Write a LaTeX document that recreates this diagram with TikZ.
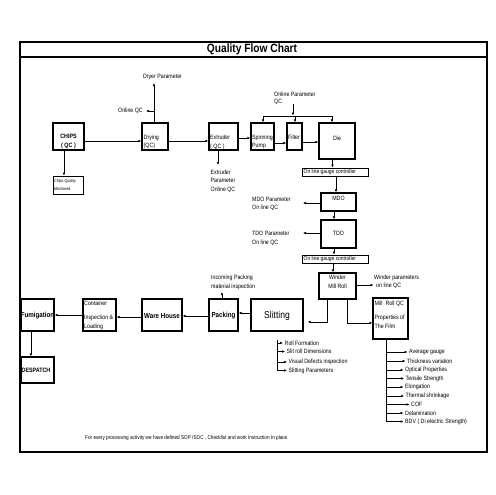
\documentclass[tikz,border=0pt]{standalone}
\usepackage{fontspec}
\setmainfont[FakeStretch=0.85]{Liberation Sans}
\usetikzlibrary{arrows.meta}
\newcommand\fsz[2]{\fontsize{#1}{#2}\selectfont}
\begin{document}
\begin{tikzpicture}[x=1pt,y=-1pt,
  box/.style={draw, line width=1.3pt, inner sep=0pt},
  thinbox/.style={draw, line width=0.9pt, inner sep=0pt},
  ar/.style={-{Latex[length=3pt,width=2.6pt]}, line width=0.55pt},
  ln/.style={line width=0.55pt},
  t/.style={inner sep=0pt, font=\fsz{6.2}{8.5}, align=left},
  tb/.style={inner sep=0pt, font=\fsz{7.3}{9}\bfseries, align=center},
]
\useasboundingbox (0,0) rectangle (495,495);
% frame
\draw[line width=1.2pt] (20,42) rectangle (487,452);
\draw[line width=1.2pt] (20,57) -- (487,57);
\node[inner sep=0pt, font=\fsz{12}{14}\bfseries] (title) at (252,49.5) {Quality Flow Chart};

% boxes
\node[box, minimum width=31pt, minimum height=27pt] (chips) at (68.5,136.5) {};
\node[thinbox, minimum width=30pt, minimum height=18pt] (cqm) at (68,185) {};
\node[box, minimum width=26pt, minimum height=27pt] (drying) at (155,136.5) {};
\node[box, minimum width=29pt, minimum height=27pt] (extruder) at (223.5,136.5) {};
\node[box, minimum width=23pt, minimum height=27pt] (spin) at (262.5,136.5) {};
\node[box, minimum width=15pt, minimum height=27pt] (filter) at (294.5,136.5) {};
\node[box, minimum width=36pt, minimum height=36pt] (die) at (337,141) {};
\node[thinbox, minimum width=66pt, minimum height=8pt] (gauge1) at (335,172) {};
\node[box, minimum width=35pt, minimum height=18pt] (mdo) at (338.5,202) {};
\node[box, minimum width=35pt, minimum height=28pt] (tdo) at (338.5,234) {};
\node[thinbox, minimum width=66pt, minimum height=8pt] (gauge2) at (335,259) {};
\node[box, minimum width=37pt, minimum height=26pt] (winder) at (337.5,286) {};
\node[box, minimum width=35pt, minimum height=41pt] (millqc) at (390.5,318.5) {};
\node[box, minimum width=52pt, minimum height=32pt] (slitting) at (277,315) {};
\node[box, minimum width=29pt, minimum height=32pt] (packing) at (223.5,315) {};
\node[box, minimum width=40pt, minimum height=32pt] (warehouse) at (162,315) {};
\node[box, minimum width=33pt, minimum height=32pt] (container) at (99.5,315) {};
\node[box, minimum width=33pt, minimum height=32pt] (fum) at (37.5,315) {};
\node[box, minimum width=33pt, minimum height=26pt] (despatch) at (37.5,370) {};

% box texts
\node[tb, font=\fsz{6.3}{9}\bfseries] (chipsT) at (68.5,141.5) {CHIPS\\( QC )};
\node[t, font=\fsz{4.3}{8}, anchor=north west] (cqmT) at (54,179.5) {Chips Quality\\Monitored};
\node[t, font=\fsz{6.2}{8}, anchor=north west] (dryingT) at (143.5,134.5) {Drying\\(QC)};
\node[t, font=\fsz{6.2}{9}, anchor=north west] (extruderT) at (210,134.5) {Extruder\\( QC )};
\node[t, font=\fsz{6.2}{8.5}, anchor=north west] (spinT) at (252,134.5) {Spinning\\Pump};
\node[t, anchor=west] (filterT) at (288,137.5) {Filter};
\node[t] (dieT) at (337,138.5) {Die};
\node[t, font=\fsz{5.8}{8}, anchor=west] (g1T) at (303.5,172) {On line gauge controller};
\node[t] (mdoT) at (338.5,198.5) {MDO};
\node[t] (tdoT) at (338.5,233.5) {TDO};
\node[t, font=\fsz{5.8}{8}, anchor=west] (g2T) at (303.5,259) {On line gauge controller};
\node[t, align=center, font=\fsz{6.2}{9}] (winderT) at (337.5,282) {Winder\\Mill Roll};
\node[t, font=\fsz{6.2}{9}, anchor=north west] (millT) at (374.5,300.5) {Mill\ \ Roll QC\\[5pt]Properties of\\The Film};
\node[inner sep=0pt, font=\fsz{10}{12}] (slitT) at (277,315.5) {Slitting};
\node[tb] (packT) at (223.5,316) {Packing};
\node[tb] (wareT) at (162,316) {Ware House};
\node[t, font=\fsz{6.2}{9}, anchor=north west] (contT) at (84,300.5) {Container\\[5pt]Inspection \&\\Loading};
\node[tb] (fumT) at (37.5,316) {Fumigation};
\node[tb, font=\fsz{6.3}{9}\bfseries, anchor=west] (despT) at (21.5,370.5) {DESPATCH};

% annotations
\node[t] (dryerP) at (162.5,77.5) {Dryer Parameter};
\node[t, anchor=east] (oqc) at (143,111) {Online QC};
\node[t, anchor=north west] (extP) at (210.5,169.5) {Extruder\\Parameter\\Online QC};
\node[t, font=\fsz{6.2}{7.2}, anchor=north west] (onP) at (274,91.5) {Online Parameter\\QC};
\node[t, font=\fsz{6.2}{8}, anchor=north west] (mdoP) at (252,196.5) {MDO Parameter\\On line QC};
\node[t, font=\fsz{6.2}{9}, anchor=north west] (tdoP) at (252,230.5) {TDO Parameter\\On line QC};
\node[t, font=\fsz{6.2}{8}, anchor=north west] (winP) at (374,274.5) {Winder parameters\\\hspace{2pt}on line QC};
\node[t, font=\fsz{6.2}{9}, anchor=north west] (incP) at (211,274.5) {Incoming Packing\\material inspection};

% slitting parameters
\node[t, anchor=west] (s1) at (284.5,343) {Roll Formation};
\node[t, anchor=west] (s2) at (286.5,351.5) {Slit roll Dimensions};
\node[t, anchor=west] (s3) at (288.5,362) {Visual Defects inspection};
\node[t, anchor=west] (s4) at (288.5,370.5) {Slitting Parameters};

% film properties
\node[t, anchor=west] (p1) at (409,352) {Average gauge};
\node[t, anchor=west] (p2) at (407,361) {Thickness variation};
\node[t, anchor=west] (p3) at (405,370) {Optical Properties};
\node[t, anchor=west] (p4) at (405.5,378.5) {Tensile Strength};
\node[t, anchor=west] (p5) at (405,387) {Elongation};
\node[t, anchor=west] (p6) at (405.5,396) {Thermal shrinkage};
\node[t, anchor=west] (p7) at (411,404.5) {COF};
\node[t, anchor=west] (p8) at (405,413) {Delamination};
\node[t, anchor=west] (p9) at (405,421.5) {BDV ( Di electric Strength)};

\node[t, font=\fsz{5.5}{7}, anchor=west] (note) at (85,438.5) {For every processing activity we have defined SOP /SOC , Checklist and work Instruction In place.};

% coordinates
\coordinate (dpTip) at (154,83);
\coordinate (oqcS) at (154,111);
\coordinate (exTip) at (218,165);
\coordinate (opA) at (293,104);
\coordinate (opB) at (293,115.5);
\coordinate (busL) at (263,116);
\coordinate (busM) at (295,116);
\coordinate (busR) at (332,116);
\coordinate (mdoTip) at (303,203);
\coordinate (tdoTip) at (303,233);
\coordinate (winTip) at (373.5,285);
\coordinate (packTip) at (222,292);
\coordinate (sbTop) at (277.5,340);

% connectors
\draw[ar] ([yshift=-4.5pt]chips.east) -- ([yshift=-4.5pt]drying.west);
\draw[ar] ([xshift=-4.5pt]chips.south) -- ([xshift=-4pt]cqm.north);
\draw[ar] ([xshift=-1pt]drying.north) -- (dpTip);
\draw[ar, shorten >=3pt] (oqcS) -- (oqc.east);
\draw[ar] ([yshift=-4.5pt]drying.east) -- ([yshift=-4.5pt]extruder.west);
\draw[ar] ([xshift=-5.5pt]extruder.south) -- (exTip);
\draw[ar] ([yshift=-1.5pt]extruder.east) -- ([yshift=-1.5pt]spin.west);
\draw[ar] ([yshift=-6.5pt]spin.east) -- ([yshift=-6.5pt]filter.west);
\draw[ar] ([yshift=-5.5pt]filter.east) -- ([yshift=-1pt]die.west);
\draw[ar] (opA) -- (opB);
\draw[ln] (busL) -- (busR);
\draw[ar] (busL) -- ([xshift=0.5pt]spin.north);
\draw[ar] (busM) -- ([xshift=0.5pt]filter.north);
\draw[ar] (busR) -- ([xshift=-5pt]die.north);
\draw[ar] ([xshift=-4.5pt]die.south) -- ([xshift=-2.5pt]gauge1.north);
\draw[ar] ([xshift=1pt]gauge1.south) -- ([xshift=-2.5pt]mdo.north);
\draw[ar] ([yshift=-1pt]mdo.west) -- (mdoTip);
\draw[ar] ([xshift=-4.5pt]mdo.south) -- ([xshift=-4.5pt]tdo.north);
\draw[ar] ([yshift=1pt]tdo.west) -- (tdoTip);
\draw[ar] ([xshift=-4.5pt]tdo.south) -- ([xshift=-1pt]gauge2.north);
\draw[ar] ([xshift=-2pt]gauge2.south) -- ([xshift=-4.5pt]winder.north);
\draw[ar] ([yshift=1pt]winder.east) -- (winTip);
\draw[ar] ([xshift=-10.5pt]winder.south) |- ([xshift=4pt,yshift=-7pt]slitting.east);
\draw[ar] ([xshift=9.5pt]winder.south) |- ([yshift=-4.5pt]millqc.west);
\draw[ln] ([xshift=-4.5pt]millqc.south) -- ++(0,82.5);
\foreach \p in {p1,p2,p3,p4,p5,p6,p7,p8,p9}
  \draw[ar, shorten >=1.5pt] ([xshift=-4.5pt]millqc.south) |- (\p.west);
\foreach \s in {s1,s2,s3,s4}
  \draw[ar, shorten >=1.5pt] (sbTop) |- (\s.west);
\draw[ar] ([yshift=2pt]slitting.west) -- ([yshift=2pt]packing.east);
\draw[ar] ([yshift=-1pt]packing.west) -- ([yshift=-1pt]warehouse.east);
\draw[ar] ([yshift=-2pt]warehouse.west) -- ([yshift=-2pt]container.east);
\draw[ar] (container.west) -- (fum.east);
\draw[ar] ([xshift=-1.5pt]packing.north) -- (packTip);
\draw[ar] ([xshift=-6.5pt]fum.south) -- ([xshift=-6.5pt]despatch.north);
\end{tikzpicture}
\end{document}
